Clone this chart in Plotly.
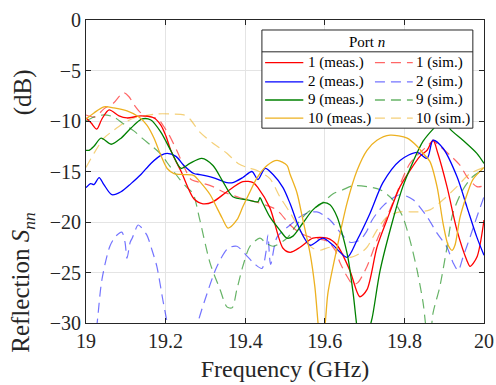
import plotly.graph_objects as go

# Reflection coefficients S_nn (dB) versus frequency (GHz), measured and simulated
f_1_meas = [19.000, 19.013, 19.027, 19.040, 19.058, 19.083, 19.103, 19.138, 19.171, 19.188,
            19.201, 19.214, 19.239, 19.271, 19.294, 19.319, 19.354, 19.394, 19.420, 19.432,
            19.462, 19.495, 19.513, 19.538, 19.570, 19.606, 19.631, 19.663, 19.688, 19.706,
            19.731, 19.756, 19.789, 19.814, 19.839, 19.857, 19.872, 19.884, 19.907, 19.932,
            19.957, 19.965, 19.982, 20.000]
s_1_meas = [-9.7, -10.2, -10.8, -9.8, -8.9, -9.5, -9.7, -9.5, -9.7, -10.4,
            -11.5, -13.0, -15.0, -17.7, -18.2, -18.0, -17.0, -16.0, -16.1, -16.6,
            -18.6, -22.6, -23.0, -22.5, -21.6, -21.6, -22.3, -24.8, -27.4, -26.7,
            -22.5, -19.8, -16.5, -14.9, -13.5, -12.9, -11.9, -13.2, -16.5, -20.8,
            -23.8, -24.4, -23.5, -19.8]

f_1_sim = [19.000, 19.023, 19.045, 19.070, 19.085, 19.095, 19.108, 19.121, 19.138, 19.161,
           19.181, 19.193, 19.209, 19.229, 19.246, 19.264, 19.279, 19.319, 19.344, 19.387,
           19.425, 19.470, 19.487, 19.513, 19.538, 19.563, 19.606, 19.626, 19.638, 19.656,
           19.671, 19.683, 19.706, 19.731, 19.756, 19.771, 19.814, 19.857, 19.872, 19.889,
           19.915, 19.940, 19.957, 19.982, 20.000]
s_1_sim = [-9.4, -9.6, -8.8, -8.2, -7.5, -7.2, -7.6, -8.4, -9.2, -9.6,
           -9.8, -10.4, -11.4, -13.0, -14.5, -15.8, -16.0, -16.5, -17.0, -17.6,
           -18.0, -18.6, -19.1, -20.3, -21.1, -21.5, -21.9, -22.8, -24.0, -25.4,
           -26.2, -26.0, -24.4, -21.8, -19.5, -18.1, -14.2, -12.5, -12.0, -12.5,
           -13.4, -14.4, -15.5, -16.5, -16.4]

f_2_meas = [19.000, 19.012, 19.020, 19.033, 19.045, 19.065, 19.088, 19.113, 19.138, 19.163,
            19.188, 19.204, 19.226, 19.246, 19.271, 19.286, 19.319, 19.354, 19.369, 19.394,
            19.417, 19.432, 19.450, 19.470, 19.495, 19.513, 19.538, 19.563, 19.595, 19.621,
            19.656, 19.681, 19.714, 19.746, 19.789, 19.832, 19.857, 19.872, 19.897, 19.932,
            19.957, 19.982, 20.000]
s_2_meas = [-16.6, -16.2, -16.3, -15.6, -16.3, -17.3, -17.0, -16.2, -15.3, -14.2,
            -13.4, -13.2, -13.5, -14.4, -15.2, -15.3, -15.6, -16.1, -16.1, -15.6,
            -15.0, -15.8, -14.7, -15.3, -16.6, -18.2, -20.8, -22.3, -21.6, -22.3,
            -23.5, -21.8, -19.1, -16.1, -13.9, -13.1, -13.7, -11.9, -12.7, -15.5,
            -18.5, -21.5, -23.3]

f_2_sim = [19.000, 19.015, 19.028, 19.040, 19.060, 19.075, 19.090, 19.098, 19.103, 19.111,
           19.116, 19.131, 19.138, 19.153, 19.166, 19.178, 19.193, 19.204, 19.216, 19.241,
           19.266, 19.281, 19.304, 19.329, 19.357, 19.379, 19.405, 19.425, 19.442, 19.452,
           19.457, 19.464, 19.480, 19.513, 19.545, 19.580, 19.613, 19.638,
           19.663, 19.688, 19.704, 19.719, 19.749, 19.789, 19.822, 19.857, 19.882, 19.907,
           19.922, 19.935, 19.947, 19.965, 19.982, 20.000]
s_2_sim = [-40.0, -34.0, -30.0, -25.7, -22.4, -21.4, -21.0, -22.0, -23.6, -22.0,
           -21.6, -20.3, -20.5, -21.3, -22.8, -24.4, -27.7, -30.0, -33.0, -36.0,
           -33.0, -30.0, -27.1, -24.4, -22.6, -22.4, -23.4, -24.2, -24.6, -23.0,
           -21.3, -24.2, -21.5, -20.3, -19.3, -19.0, -19.8, -21.0,
           -22.0, -21.8, -21.0, -19.8, -18.3, -17.3, -17.8, -19.5, -21.1, -22.5,
           -24.0, -24.8, -23.5, -21.5, -19.5, -17.5]

f_9_meas = [19.000, 19.008, 19.020, 19.038, 19.063, 19.088, 19.113, 19.141, 19.163, 19.188,
            19.214, 19.239, 19.261, 19.291, 19.319, 19.344, 19.369, 19.405, 19.432, 19.437,
            19.445, 19.462, 19.487, 19.505, 19.520, 19.545, 19.570, 19.595, 19.613, 19.631,
            19.646, 19.658, 19.671, 19.681, 19.693, 19.709, 19.719, 19.739, 19.771, 19.796,
            19.822, 19.847, 19.872, 19.899, 19.915, 19.947, 19.982, 20.000]
s_9_meas = [-12.9, -12.9, -12.5, -11.7, -12.3, -11.7, -10.7, -9.8, -9.9, -11.1,
            -13.0, -14.7, -14.2, -13.7, -14.4, -16.0, -17.5, -17.8, -18.0, -17.6,
            -18.2, -19.5, -20.8, -21.6, -21.4, -20.1, -18.8, -18.1, -18.3, -19.5,
            -21.5, -23.5, -27.0, -30.5, -34.0, -31.0, -29.5, -24.8, -19.8, -16.5,
            -14.0, -12.0, -10.8, -9.8, -10.8, -11.9, -13.2, -14.2]

f_9_sim = [19.000, 19.020, 19.045, 19.070, 19.095, 19.121, 19.141, 19.166, 19.186, 19.211,
           19.236, 19.254, 19.269, 19.286, 19.312, 19.337, 19.354, 19.367, 19.379, 19.394,
           19.412, 19.437, 19.450, 19.470, 19.505, 19.525, 19.555, 19.588,
           19.621, 19.646, 19.671, 19.706, 19.739, 19.771, 19.796, 19.814, 19.832, 19.847,
           19.857, 19.864, 19.872, 19.889, 19.907, 19.922, 19.947, 19.972, 20.000]
s_9_sim = [-10.0, -9.6, -9.4, -9.6, -10.3, -11.0, -11.7, -12.5, -13.2, -14.5,
           -15.8, -16.6, -17.2, -19.8, -24.1, -26.7, -28.4, -28.5, -26.7, -24.4,
           -22.4, -21.6, -22.0, -22.4, -21.6, -20.5, -19.1, -18.3,
           -17.2, -16.8, -16.4, -16.5, -16.8, -17.8, -19.5, -21.8, -24.8, -28.0,
           -31.0, -31.5, -29.0, -26.4, -22.5, -19.1, -16.8, -15.5, -14.8]

f_10_meas = [19.000, 19.020, 19.045, 19.070, 19.103, 19.133, 19.153, 19.171, 19.188, 19.204,
             19.221, 19.246, 19.271, 19.286, 19.312, 19.329, 19.342, 19.357, 19.379, 19.394,
             19.412, 19.430, 19.455, 19.480, 19.505, 19.513, 19.530, 19.545, 19.563, 19.575,
             19.583, 19.590, 19.601, 19.608, 19.631, 19.656, 19.681, 19.706, 19.731, 19.764,
             19.807, 19.832, 19.847, 19.864, 19.882, 19.897, 19.910, 19.920, 19.927, 19.940,
             19.957, 19.972, 20.000]
s_10_meas = [-9.8, -9.2, -8.6, -8.7, -9.0, -9.6, -10.4, -11.7, -13.4, -14.7,
             -15.2, -15.3, -15.4, -16.0, -17.3, -18.6, -19.6, -20.6, -19.8, -18.5,
             -17.0, -15.6, -14.4, -13.9, -14.4, -15.3, -17.1, -19.8, -23.1, -26.4,
             -30.0, -33.0, -30.0, -27.0, -22.5, -18.1, -14.9, -12.9, -11.9, -11.4,
             -11.7, -12.5, -13.2, -14.0, -16.5, -20.1, -22.3, -22.8, -22.3, -19.5,
             -17.3, -15.8, -14.6]

f_10_sim = [19.000, 19.020, 19.045, 19.070, 19.095, 19.121, 19.146, 19.178, 19.211, 19.246,
            19.261, 19.286, 19.319, 19.354, 19.382, 19.405, 19.430, 19.462, 19.487, 19.513,
            19.538, 19.555, 19.570, 19.588, 19.613, 19.638, 19.663, 19.688, 19.706, 19.731,
            19.756, 19.789, 19.832, 19.864, 19.897, 19.932, 19.965, 20.000]
s_10_sim = [-14.6, -13.2, -11.7, -10.9, -10.2, -9.7, -9.5, -9.3, -9.3, -9.4,
            -9.8, -11.1, -12.2, -13.2, -14.2, -14.6, -14.9, -15.7, -17.5, -19.1,
            -20.8, -22.1, -22.6, -22.8, -22.5, -23.0, -23.5, -23.1, -22.5, -20.8,
            -19.5, -19.0, -19.0, -18.8, -17.8, -16.5, -15.2, -14.6]

port_labels = ["1", "2", "9", "10"]
port_colors = ["#ff0000", "#0000ff", "#008000", "#edb120"]
sim_colors = ["rgba(255,0,0,0.6)", "rgba(0,0,255,0.55)", "rgba(0,128,0,0.6)", "rgba(237,177,32,0.6)"]
meas_data = [(f_1_meas, s_1_meas), (f_2_meas, s_2_meas), (f_9_meas, s_9_meas), (f_10_meas, s_10_meas)]
sim_data = [(f_1_sim, s_1_sim), (f_2_sim, s_2_sim), (f_9_sim, s_9_sim), (f_10_sim, s_10_sim)]

x_ticks = [19, 19.2, 19.4, 19.6, 19.8, 20]
x_ticktext = ["19", "19.2", "19.4", "19.6", "19.8", "20"]
y_ticks = [-30, -25, -20, -15, -10, -5, 0]
y_ticktext = ["\u221230", "\u221225", "\u221220", "\u221215", "\u221210", "\u22125", "0"]

SERIF = "Liberation Serif"
DASH = "10px,6px"
INK = "#262626"

fig = go.Figure()
for (fx, sy), col in zip(sim_data, sim_colors):
    fig.add_trace(go.Scatter(x=fx, y=sy, mode="lines", showlegend=False,
                             line=dict(color=col, width=1.2, dash=DASH, shape="spline", smoothing=0.8)))
for (fx, sy), col in zip(meas_data, port_colors):
    fig.add_trace(go.Scatter(x=fx, y=sy, mode="lines", showlegend=False,
                             line=dict(color=col, width=1.3, shape="spline", smoothing=0.8)))

axis_common = dict(showline=True, linecolor=INK, linewidth=1, mirror="ticks",
                   ticks="inside", ticklen=5, tickcolor=INK, automargin=False,
                   showgrid=True, gridcolor="#e4e4e4", gridwidth=1, zeroline=False,
                   tickfont=dict(family=SERIF, size=20, color=INK))

fig.update_xaxes(range=[19, 20], tickvals=x_ticks, ticktext=x_ticktext,
                 title=dict(text="Frequency (GHz)", font=dict(family=SERIF, size=24, color=INK), standoff=9),
                 **axis_common)
fig.update_yaxes(range=[-30, 0], tickvals=y_ticks, ticktext=y_ticktext, **axis_common)

# Legend box, drawn in axes-fraction coordinates
lx0, lx1, ly0, ly1 = 0.442, 0.972, 0.643, 0.967
sep_y = 0.895
shapes = [
    dict(type="rect", xref="paper", yref="paper", x0=lx0, x1=lx1, y0=ly0, y1=ly1,
         fillcolor="white", line=dict(color=INK, width=1), layer="above"),
    dict(type="line", xref="paper", yref="paper", x0=lx0, x1=lx1, y0=sep_y, y1=sep_y,
         line=dict(color=INK, width=1), layer="above"),
]
annotations = [
    dict(text="Port <i>n</i>", xref="paper", yref="paper", x=(lx0 + lx1) / 2, y=0.928,
         showarrow=False, xanchor="center", yanchor="middle",
         font=dict(family=SERIF, size=15, color="black")),
    # vertical axis label: quantity and unit
    dict(text="Reflection <i>S</i><sub><i>nn</i></sub>", xref="paper", yref="paper",
         x=-0.158, y=-0.106, textangle=-90, showarrow=False,
         xanchor="center", yanchor="bottom",
         font=dict(family=SERIF, size=25, color=INK)),
    dict(text="(dB)", xref="paper", yref="paper",
         x=-0.158, y=0.762, textangle=-90, showarrow=False,
         xanchor="center", yanchor="middle",
         font=dict(family=SERIF, size=25, color=INK)),
]
row_y = [0.859, 0.796, 0.736, 0.676]
col_line = [(0.450, 0.546), (0.726, 0.821)]
col_text = [0.553, 0.823]
for i, lab in enumerate(port_labels):
    for j, (kind, col, dash) in enumerate([("meas.", port_colors[i], "solid"), ("sim.", sim_colors[i], DASH)]):
        shapes.append(dict(type="line", xref="paper", yref="paper",
                           x0=col_line[j][0], x1=col_line[j][1], y0=row_y[i], y1=row_y[i],
                           line=dict(color=col, width=1.3, dash=dash), layer="above"))
        annotations.append(dict(text=f"{lab} ({kind})", xref="paper", yref="paper",
                                x=col_text[j], y=row_y[i], showarrow=False,
                                xanchor="left", yanchor="middle",
                                font=dict(family=SERIF, size=15, color="black")))

fig.update_layout(template="none", width=496, height=385,
                  margin=dict(l=86, r=12, t=20, b=62, autoexpand=False),
                  plot_bgcolor="white", paper_bgcolor="white",
                  shapes=shapes, annotations=annotations, showlegend=False)

fig.write_html("out.html", config={"displayModeBar": False})
